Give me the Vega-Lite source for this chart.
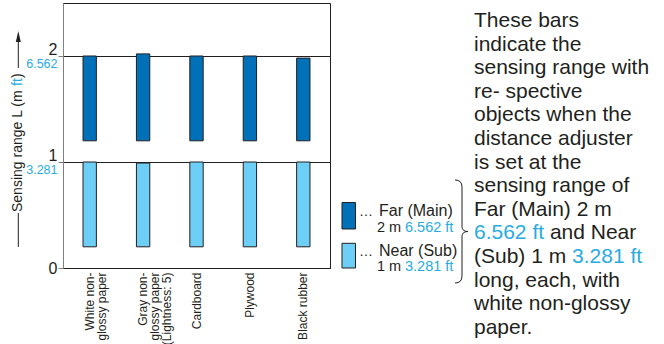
{
  "$schema": "https://vega.github.io/schema/vega-lite/v6.json",
  "width": 267,
  "height": 265,
  "autosize": {"type": "none"},
  "padding": {"left": 63, "top": 3, "right": 334, "bottom": 76},
  "background": "white",
  "config": {"view": {"stroke": "#231f20", "strokeWidth": 1}, "font": "Liberation Sans"},
  "resolve": {"scale": {"x": "independent"}},
  "layer": [
    {
      "data": {"values": [
        {"material": "White non-glossy paper", "mode": "Far (Main)", "from": 1.2, "to": 2.0},
        {"material": "White non-glossy paper", "mode": "Near (Sub)", "from": 0.2, "to": 1.0},
        {"material": "Gray non-glossy paper (Lightness: 5)", "mode": "Far (Main)", "from": 1.2, "to": 2.02},
        {"material": "Gray non-glossy paper (Lightness: 5)", "mode": "Near (Sub)", "from": 0.2, "to": 0.99},
        {"material": "Cardboard", "mode": "Far (Main)", "from": 1.2, "to": 2.0},
        {"material": "Cardboard", "mode": "Near (Sub)", "from": 0.2, "to": 1.0},
        {"material": "Plywood", "mode": "Far (Main)", "from": 1.2, "to": 2.0},
        {"material": "Plywood", "mode": "Near (Sub)", "from": 0.2, "to": 1.0},
        {"material": "Black rubber", "mode": "Far (Main)", "from": 1.2, "to": 1.98},
        {"material": "Black rubber", "mode": "Near (Sub)", "from": 0.2, "to": 1.0}
      ]},
      "mark": {"type": "bar", "stroke": "#231f20", "strokeWidth": 1},
      "encoding": {
        "x": {
          "field": "material", "type": "nominal", "sort": null,
          "scale": {"paddingInner": 0.75, "paddingOuter": 0.375},
          "axis": {
            "title": null, "ticks": false, "labelAngle": -90, "labelAlign": "right", "labelBaseline": "middle",
            "labelFontSize": 12, "labelLineHeight": 12, "labelColor": "#231f20", "labelPadding": 4,
            "domainColor": "#231f20", "labelFont": "Liberation Sans",
            "labelExpr": "datum.value == 'White non-glossy paper' ? ['White non-', 'glossy paper'] : datum.value == 'Gray non-glossy paper (Lightness: 5)' ? ['Gray non-', 'glossy paper', '(Lightness: 5)'] : datum.value"
          }
        },
        "y": {
          "field": "from", "type": "quantitative",
          "scale": {"domain": [0, 2.5], "nice": false},
          "axis": {
            "title": null, "values": [0, 1, 2], "format": "d", "grid": true, "gridColor": "#231f20", "gridOpacity": 1,
            "domainColor": "#808080", "tickColor": "#808080", "tickSize": 5, "labelFontSize": 16,
            "labelColor": "#231f20", "labelPadding": 1, "labelFont": "Liberation Sans",
            "labelBaseline": {"condition": {"test": "datum.value == 0", "value": "middle"}, "value": "bottom"},
            "labelOffset": {"condition": {"test": "datum.value == 0", "value": 0}, "value": 1.5}
          }
        },
        "y2": {"field": "to"},
        "color": {"field": "mode", "type": "nominal", "scale": {"domain": ["Far (Main)", "Near (Sub)"], "range": ["#0070b8", "#6dcff6"]}, "legend": null}
      }
    },
    {
      "layer": [
        {
          "data": {"values": [{"m": 2, "ft": "6.562"}, {"m": 1, "ft": "3.281"}]},
          "mark": {"type": "text", "align": "right", "baseline": "top", "fontSize": 12.5, "color": "#29abe2", "dy": 2},
          "encoding": {
            "x": {"datum": -0.0206, "type": "quantitative", "scale": {"domain": [0, 1]}, "axis": null},
            "y": {"field": "m", "type": "quantitative"},
            "text": {"field": "ft", "type": "nominal"}
          }
        },
        {
          "data": {"values": [{"label": "Sensing range L (m"}]},
          "mark": {"type": "text", "angle": 270, "align": "left", "baseline": "alphabetic", "fontSize": 14, "color": "#231f20"},
          "encoding": {
            "x": {"datum": -0.1517, "type": "quantitative", "scale": {"domain": [0, 1]}, "axis": null},
            "y": {"datum": 0.5283, "type": "quantitative"},
            "text": {"field": "label", "type": "nominal"}
          }
        },
        {
          "data": {"values": [{"label": "ft"}]},
          "mark": {"type": "text", "angle": 270, "align": "left", "baseline": "alphabetic", "fontSize": 14, "color": "#29abe2"},
          "encoding": {
            "x": {"datum": -0.1517, "type": "quantitative", "scale": {"domain": [0, 1]}, "axis": null},
            "y": {"datum": 1.718, "type": "quantitative"},
            "text": {"field": "label", "type": "nominal"}
          }
        },
        {
          "data": {"values": [{"label": ")"}]},
          "mark": {"type": "text", "angle": 270, "align": "left", "baseline": "alphabetic", "fontSize": 14, "color": "#231f20"},
          "encoding": {
            "x": {"datum": -0.1517, "type": "quantitative", "scale": {"domain": [0, 1]}, "axis": null},
            "y": {"datum": 1.7915, "type": "quantitative"},
            "text": {"field": "label", "type": "nominal"}
          }
        },
        {
          "data": {"values": [{}]},
          "mark": {"type": "rule", "color": "#231f20", "strokeWidth": 1},
          "encoding": {
            "x": {"datum": -0.1674, "type": "quantitative", "scale": {"domain": [0, 1]}, "axis": null},
            "y": {"datum": 0.519, "type": "quantitative"},
            "y2": {"datum": 0.198}
          }
        },
        {
          "data": {"values": [{}]},
          "mark": {"type": "rule", "color": "#231f20", "strokeWidth": 1},
          "encoding": {
            "x": {"datum": -0.1674, "type": "quantitative", "scale": {"domain": [0, 1]}, "axis": null},
            "y": {"datum": 2.132, "type": "quantitative"},
            "y2": {"datum": 1.887}
          }
        },
        {
          "data": {"values": [{}]},
          "mark": {"type": "point", "shape": "M0,-1L0.45,1L-0.45,1Z", "filled": true, "size": 121, "color": "#231f20", "opacity": 1},
          "encoding": {
            "x": {"datum": -0.1674, "type": "quantitative", "scale": {"domain": [0, 1]}, "axis": null},
            "y": {"datum": 2.184, "type": "quantitative"}
          }
        },
        {
          "data": {"values": [{"mode": "Far (Main)"}]},
          "mark": {"type": "rect", "stroke": "#231f20", "strokeWidth": 1},
          "encoding": {
            "x": {"datum": 1.0449, "type": "quantitative", "scale": {"domain": [0, 1]}, "axis": null},
            "x2": {"datum": 1.0955},
            "y": {"datum": 0.618, "type": "quantitative"},
            "y2": {"datum": 0.368},
            "color": {"field": "mode", "type": "nominal", "legend": null}
          }
        },
        {
          "data": {"values": [{"mode": "Near (Sub)"}]},
          "mark": {"type": "rect", "stroke": "#231f20", "strokeWidth": 1},
          "encoding": {
            "x": {"datum": 1.0449, "type": "quantitative", "scale": {"domain": [0, 1]}, "axis": null},
            "x2": {"datum": 1.0955},
            "y": {"datum": 0.233, "type": "quantitative"},
            "y2": {"datum": 0.0},
            "color": {"field": "mode", "type": "nominal", "legend": null}
          }
        },
        {
          "data": {"values": [{"label": "…"}]},
          "mark": {"type": "text", "align": "left", "baseline": "alphabetic", "fontSize": 14, "color": "#231f20"},
          "encoding": {
            "x": {"datum": 1.1086, "type": "quantitative", "scale": {"domain": [0, 1]}, "axis": null},
            "y": {"datum": 0.4906, "type": "quantitative"},
            "text": {"field": "label", "type": "nominal"}
          }
        },
        {
          "data": {"values": [{"label": "…"}]},
          "mark": {"type": "text", "align": "left", "baseline": "alphabetic", "fontSize": 14, "color": "#231f20"},
          "encoding": {
            "x": {"datum": 1.1086, "type": "quantitative", "scale": {"domain": [0, 1]}, "axis": null},
            "y": {"datum": 0.1132, "type": "quantitative"},
            "text": {"field": "label", "type": "nominal"}
          }
        },
        {
          "data": {"values": [{"label": "Far (Main)"}]},
          "mark": {"type": "text", "align": "left", "baseline": "alphabetic", "fontSize": 16, "color": "#231f20"},
          "encoding": {
            "x": {"datum": 1.1835, "type": "quantitative", "scale": {"domain": [0, 1]}, "axis": null},
            "y": {"datum": 0.4906, "type": "quantitative"},
            "text": {"field": "label", "type": "nominal"}
          }
        },
        {
          "data": {"values": [{"label": "2 m"}]},
          "mark": {"type": "text", "align": "left", "baseline": "alphabetic", "fontSize": 14.5, "color": "#231f20"},
          "encoding": {
            "x": {"datum": 1.176, "type": "quantitative", "scale": {"domain": [0, 1]}, "axis": null},
            "y": {"datum": 0.3396, "type": "quantitative"},
            "text": {"field": "label", "type": "nominal"}
          }
        },
        {
          "data": {"values": [{"label": "6.562 ft"}]},
          "mark": {"type": "text", "align": "left", "baseline": "alphabetic", "fontSize": 14.5, "color": "#29abe2"},
          "encoding": {
            "x": {"datum": 1.2809, "type": "quantitative", "scale": {"domain": [0, 1]}, "axis": null},
            "y": {"datum": 0.3396, "type": "quantitative"},
            "text": {"field": "label", "type": "nominal"}
          }
        },
        {
          "data": {"values": [{"label": "Near (Sub)"}]},
          "mark": {"type": "text", "align": "left", "baseline": "alphabetic", "fontSize": 16, "color": "#231f20"},
          "encoding": {
            "x": {"datum": 1.1835, "type": "quantitative", "scale": {"domain": [0, 1]}, "axis": null},
            "y": {"datum": 0.1132, "type": "quantitative"},
            "text": {"field": "label", "type": "nominal"}
          }
        },
        {
          "data": {"values": [{"label": "1 m"}]},
          "mark": {"type": "text", "align": "left", "baseline": "alphabetic", "fontSize": 14.5, "color": "#231f20"},
          "encoding": {
            "x": {"datum": 1.176, "type": "quantitative", "scale": {"domain": [0, 1]}, "axis": null},
            "y": {"datum": -0.0283, "type": "quantitative"},
            "text": {"field": "label", "type": "nominal"}
          }
        },
        {
          "data": {"values": [{"label": "3.281 ft"}]},
          "mark": {"type": "text", "align": "left", "baseline": "alphabetic", "fontSize": 14.5, "color": "#29abe2"},
          "encoding": {
            "x": {"datum": 1.2809, "type": "quantitative", "scale": {"domain": [0, 1]}, "axis": null},
            "y": {"datum": -0.0283, "type": "quantitative"},
            "text": {"field": "label", "type": "nominal"}
          }
        },
        {
          "data": {"values": [{}]},
          "mark": {"type": "point", "shape": "M-0.126,-1Q0.01,-1 0.01,-0.864L0.01,-0.097Q0.01,0 0.126,0Q0.01,0 0.01,0.097L0.01,0.864Q0.01,1 -0.126,1", "filled": false, "size": 10609, "stroke": "#231f20", "strokeWidth": 1, "opacity": 1},
          "encoding": {
            "x": {"datum": 1.4925, "type": "quantitative", "scale": {"domain": [0, 1]}, "axis": null},
            "y": {"datum": 0.3443, "type": "quantitative"}
          }
        },
        {
          "data": {"values": [{"lines": ["These bars", "indicate the", "sensing range with", "re- spective", "objects when the", "distance adjuster", "is set at the", "sensing range of", "Far (Main) 2 m"]}]},
          "mark": {"type": "text", "align": "left", "baseline": "alphabetic", "fontSize": 21, "lineHeight": 23.6, "color": "#231f20"},
          "encoding": {
            "x": {"datum": 1.5393, "type": "quantitative", "scale": {"domain": [0, 1]}, "axis": null},
            "y": {"datum": 2.2736, "type": "quantitative"},
            "text": {"field": "lines", "type": "nominal"}
          }
        },
        {
          "data": {"values": [{"label": "6.562 ft"}]},
          "mark": {"type": "text", "align": "left", "baseline": "alphabetic", "fontSize": 21, "color": "#29abe2"},
          "encoding": {
            "x": {"datum": 1.5393, "type": "quantitative", "scale": {"domain": [0, 1]}, "axis": null},
            "y": {"datum": 0.2698, "type": "quantitative"},
            "text": {"field": "label", "type": "nominal"}
          }
        },
        {
          "data": {"values": [{"label": "and Near"}]},
          "mark": {"type": "text", "align": "left", "baseline": "alphabetic", "fontSize": 21, "color": "#231f20"},
          "encoding": {
            "x": {"datum": 1.8236, "type": "quantitative", "scale": {"domain": [0, 1]}, "axis": null},
            "y": {"datum": 0.2698, "type": "quantitative"},
            "text": {"field": "label", "type": "nominal"}
          }
        },
        {
          "data": {"values": [{"label": "(Sub) 1 m"}]},
          "mark": {"type": "text", "align": "left", "baseline": "alphabetic", "fontSize": 21, "color": "#231f20"},
          "encoding": {
            "x": {"datum": 1.5393, "type": "quantitative", "scale": {"domain": [0, 1]}, "axis": null},
            "y": {"datum": 0.0472, "type": "quantitative"},
            "text": {"field": "label", "type": "nominal"}
          }
        },
        {
          "data": {"values": [{"label": "3.281 ft"}]},
          "mark": {"type": "text", "align": "left", "baseline": "alphabetic", "fontSize": 21, "color": "#29abe2"},
          "encoding": {
            "x": {"datum": 1.9064, "type": "quantitative", "scale": {"domain": [0, 1]}, "axis": null},
            "y": {"datum": 0.0472, "type": "quantitative"},
            "text": {"field": "label", "type": "nominal"}
          }
        },
        {
          "data": {"values": [{"lines": ["long, each, with", "white non-glossy", "paper."]}]},
          "mark": {"type": "text", "align": "left", "baseline": "alphabetic", "fontSize": 21, "lineHeight": 23.6, "color": "#231f20"},
          "encoding": {
            "x": {"datum": 1.5393, "type": "quantitative", "scale": {"domain": [0, 1]}, "axis": null},
            "y": {"datum": -0.1755, "type": "quantitative"},
            "text": {"field": "lines", "type": "nominal"}
          }
        }
      ]
    }
  ]
}
